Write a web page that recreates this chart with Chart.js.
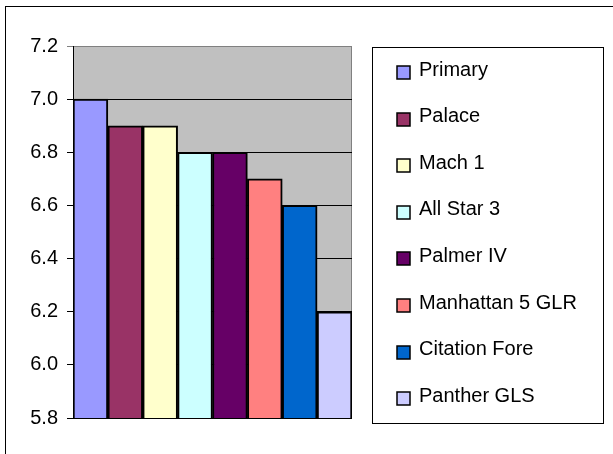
<!DOCTYPE html>
<html lang="en">
  <head>
    <meta charset="utf-8" />
    <script src="https://cdn.jsdelivr.net/npm/chart.js"></script>
    <title>Chart</title>
    <style>
      html, body { margin: 0; padding: 0; background: #fff; }
      #wrap { width: 613px; height: 454px; }
    </style>
  </head>
  <body>
    <div id="wrap"><canvas id="myChart" width="613" height="454"></canvas></div>
    <script>
      // data
      var categorias = ["Primary", "Palace", "Mach 1", "All Star 3", "Palmer IV", "Manhattan 5 GLR", "Citation Fore", "Panther GLS"];
      var valores = [7.0, 6.9, 6.9, 6.8, 6.8, 6.7, 6.6, 6.2];
      var cores = ["#9999FF", "#993366", "#FFFFCC", "#CCFFFF", "#660066", "#FF8080", "#0066CC", "#CCCCFF"];
      var eixoMin = 5.8, eixoMax = 7.2, passo = 0.2;

      var fonte = "'Liberation Sans', Arial, sans-serif";

      // fundo cinza da area do grafico + borda externa
      var fundo = {
        id: 'fundo',
        beforeDraw: function (chart) {
          var c = chart.ctx, a = chart.chartArea;
          c.save();
          c.fillStyle = '#fff';
          c.fillRect(0, 0, chart.width, chart.height);
          c.strokeStyle = '#000';
          c.lineWidth = 1;
          c.strokeRect(5.5, 6.5, 700, 700);
          c.fillStyle = '#C0C0C0';
          c.fillRect(a.left, a.top, a.right - a.left, a.bottom - a.top);
          // borda direita cinza
          c.strokeStyle = '#808080';
          c.beginPath();
          c.moveTo(a.right - 0.5, a.top);
          c.lineTo(a.right - 0.5, a.bottom);
          c.stroke();
          c.restore();
        }
      };

      // legenda em caixa, como no Excel
      var legenda = {
        id: 'legenda',
        afterDraw: function (chart) {
          var c = chart.ctx;
          var ds = chart.data.datasets[0];
          c.save();
          c.strokeStyle = '#000';
          c.lineWidth = 1;
          c.strokeRect(372.5, 47.5, 231, 376);
          c.font = '20px ' + fonte;
          c.textBaseline = 'alphabetic';
          chart.data.labels.forEach(function (nome, i) {
            var cy = 72.5 + i * 46.6;
            c.fillStyle = ds.backgroundColor[i];
            c.fillRect(397, Math.round(cy - 6.5), 13, 13);
            c.strokeStyle = '#000';
            c.lineWidth = 1.5;
            c.strokeRect(397, Math.round(cy - 6.5), 13, 13);
            c.fillStyle = '#000';
            c.fillText(nome, 419, cy + 3);
          });
          c.restore();
        }
      };

      var ctx = document.getElementById('myChart').getContext('2d');
      var myChart = new Chart(ctx, {
        type: 'bar',
        data: {
          labels: categorias,
          datasets: [{
            data: valores,
            backgroundColor: cores,
            borderColor: '#000',
            borderWidth: 2,
            borderSkipped: false,
            barPercentage: 1,
            categoryPercentage: 1
          }]
        },
        options: {
          responsive: false,
          animation: false,
          devicePixelRatio: 1,
          layout: { padding: { left: 0, top: 46, right: 261, bottom: 36 } },
          plugins: { legend: { display: false }, tooltip: { enabled: false } },
          scales: {
            x: { display: false },
            y: {
              min: eixoMin,
              max: eixoMax,
              afterFit: function (s) { s.width = 73; },
              ticks: {
                stepSize: passo,
                padding: 9,
                color: '#000',
                font: { family: fonte, size: 20 },
                callback: function (v) { return Number(v).toFixed(1); }
              },
              grid: {
                color: function (ctx) {
                  return ctx.tick && Math.abs(ctx.tick.value - eixoMax) < 1e-6 ? '#808080' : '#000';
                },
                tickLength: 6,
                lineWidth: 1
              },
              border: { color: '#000', width: 1 }
            }
          }
        },
        plugins: [fundo, legenda]
      });
    </script>
  </body>
</html>
